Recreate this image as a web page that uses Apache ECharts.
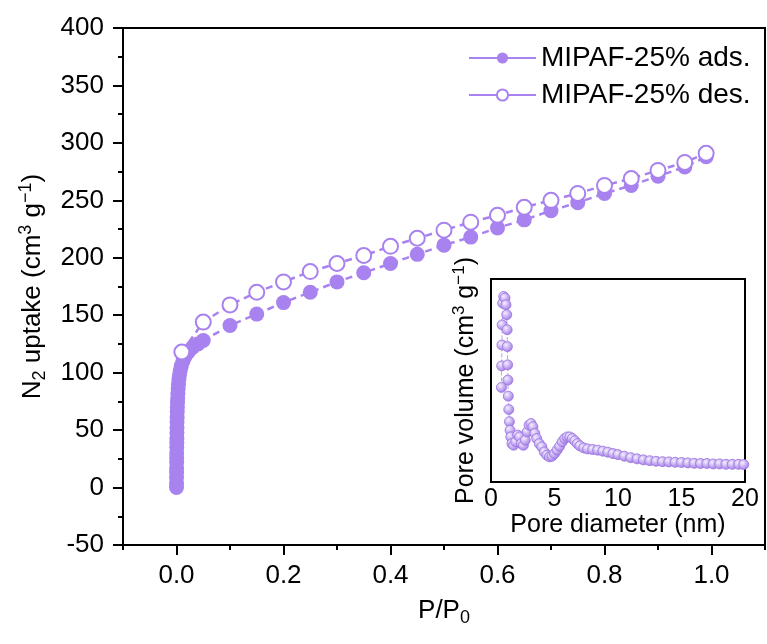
<!DOCTYPE html>
<html>
<head>
<meta charset="utf-8">
<script src="https://cdn.jsdelivr.net/npm/echarts@6/dist/echarts.min.js"></script>
<style>html,body{margin:0;padding:0;background:#fff}#c{width:767px;height:644px}</style>
</head>
<body>
<div id="c"></div>
<script>
// ---- Main isotherm data ----
var adsP = [0.0000,0.0001,0.0001,0.0002,0.0002,0.0003,0.0003,0.0004,0.0005,0.0006,0.0007,0.0008,0.0009,0.0010,0.0012,0.0014,0.0016,0.0019,0.0022,0.0026,0.0031,0.0037,0.0045,0.0055,0.0070,0.0090,0.012,0.016,0.022,0.030,0.040,0.05,0.10,0.15,0.20,0.25,0.30,0.35,0.40,0.45,0.50,0.55,0.60,0.65,0.70,0.75,0.80,0.85,0.90,0.95,0.99];
var adsV = [0,4,9,13,17,22,26,30,35,39,43,48,52,57,61,66,70,74,78,82,86,90,94,98,102,106,110,114,118,122,125,128,141,151,161,170,179,187,195,203,211,218,226,233,241,248,256,263,271,279,288];
var desP = [0.01,0.05,0.10,0.15,0.20,0.25,0.30,0.35,0.40,0.45,0.50,0.55,0.60,0.65,0.70,0.75,0.80,0.85,0.90,0.95,0.99];
var desV = [118,144,159,170,179,188,195,202,210,217,224,231,237,244,250,256,263,269,276,283,291];
// ---- Inset pore size distribution ----
var poreD = [0.82,0.84,0.86,0.88,0.92,1.00,1.10,1.18,1.24,1.27,1.29,1.31,1.33,1.36,1.40,1.45,1.50,1.56,1.65,1.78,1.95,2.10,2.25,2.40,2.55,2.70,2.85,3.00,3.15,3.30,3.45,3.60,3.80,4.00,4.20,4.40,4.60,4.80,5.00,5.20,5.40,5.60,5.80,6.00,6.20,6.40,6.60,6.80,7.00,7.30,7.60,8.00,8.40,8.80,9.20,9.60,10.0,10.5,11.0,11.5,12.0,12.5,13.0,13.5,14.0,14.5,15.0,15.5,16.0,16.5,17.0,17.5,18.0,18.5,19.0,19.5,19.9];
var poreV = [0.466,0.572,0.675,0.774,0.881,0.914,0.906,0.873,0.824,0.750,0.667,0.577,0.502,0.423,0.357,0.297,0.255,0.222,0.189,0.181,0.198,0.231,0.222,0.189,0.181,0.206,0.247,0.280,0.288,0.272,0.239,0.214,0.189,0.173,0.148,0.132,0.124,0.127,0.140,0.157,0.176,0.198,0.214,0.222,0.222,0.214,0.203,0.189,0.178,0.168,0.163,0.160,0.157,0.152,0.147,0.140,0.135,0.127,0.120,0.114,0.109,0.105,0.102,0.100,0.099,0.097,0.096,0.094,0.092,0.091,0.091,0.089,0.089,0.087,0.087,0.087,0.086];
// ---- Tick values ----
var xMajorTicks = [0.0,0.2,0.4,0.6,0.8,1.0];
var xMinorTicks = [-0.1,0.1,0.3,0.5,0.7,0.9,1.1];
var seriesNames = ['MIPAF-25% ads.','MIPAF-25% des.'];

var purple = '#a882ee';
var FONT = "'Liberation Sans', Arial, sans-serif";
function zip(a,b){return a.map(function(v,i){return [v,b[i]];});}

var chart = echarts.init(document.getElementById('c'), null, {renderer:'canvas'});
var txt = {color:'#000', fontFamily:FONT, fontSize:26};
chart.setOption({
  animation:false,
  backgroundColor:'#fff',
  textStyle:{fontFamily:FONT},
  legend:{
    data:seriesNames, orient:'vertical', left:463, top:39,
    itemWidth:67, itemHeight:14, itemGap:9,
    textStyle:{color:'#000', fontFamily:FONT, fontSize:28, lineHeight:28},
    lineStyle:{type:'solid', width:2}
  },
  grid:[
    {left:123, top:28, width:642, height:517, show:true, borderColor:'#000', borderWidth:2, backgroundColor:'transparent'},
    {left:491, top:279, width:254, height:203, show:true, borderColor:'#000', borderWidth:2, backgroundColor:'#fff', z:5}
  ],
  xAxis:[
    {gridIndex:0, type:'value', min:-0.1, max:1.1, interval:0.1,
     name:'{a|P/P}{sub|0}', nameLocation:'middle', nameGap:50,
     nameTextStyle:{rich:{a:{fontSize:26,color:'#000',fontFamily:FONT}, sub:{fontSize:18,color:'#000',fontFamily:FONT,padding:[14,0,0,0]}}},
     axisLine:{onZero:false, lineStyle:{color:'#000', width:2}},
     axisTick:{show:true, length:10, lineStyle:{width:2}, customValues:xMajorTicks},
     axisLabel:Object.assign({margin:18, customValues:xMajorTicks, formatter:function(v){return v.toFixed(1);}}, txt),
     splitLine:{show:false}},
    {gridIndex:0, type:'value', min:-0.1, max:1.1, interval:0.1, position:'bottom',
     axisLine:{show:false, onZero:false},
     axisTick:{show:true, length:5, lineStyle:{width:2,color:'#000'}, customValues:xMinorTicks},
     axisLabel:{show:false}, splitLine:{show:false}},
    {gridIndex:1, type:'value', min:0, max:20, interval:5,
     name:'Pore diameter (nm)', nameLocation:'middle', nameGap:31,
     nameTextStyle:{fontSize:25, color:'#000', fontFamily:FONT},
     axisLine:{onZero:false, lineStyle:{color:'#000', width:2}},
     axisTick:{show:true, inside:true, length:5, lineStyle:{width:1.5}},
     minorTick:{show:true, splitNumber:2, length:4, lineStyle:{color:'#000', width:1.5}},
     axisLabel:{margin:5, fontSize:25, color:'#000', fontFamily:FONT},
     splitLine:{show:false}}
  ],
  yAxis:[
    {gridIndex:0, type:'value', min:-50, max:400, interval:50,
     name:'{a|N}{sub|2}{a| uptake (cm}{sup|3}{a| g}{sup|−1}{a|)}', nameLocation:'middle', nameGap:74,
     nameTextStyle:{rich:{a:{fontSize:26,color:'#000',fontFamily:FONT}, sub:{fontSize:18,color:'#000',fontFamily:FONT,padding:[14,0,0,0]}, sup:{fontSize:18,color:'#000',fontFamily:FONT,padding:[0,0,14,0]}}},
     axisLine:{onZero:false, lineStyle:{color:'#000', width:2}},
     axisTick:{show:true, length:10, lineStyle:{width:2}},
     minorTick:{show:true, splitNumber:2, length:5, lineStyle:{color:'#000', width:2}},
     axisLabel:Object.assign({margin:19}, txt),
     splitLine:{show:false}},
    {gridIndex:1, type:'value', min:0, max:1,
     name:'{a|Pore volume (cm}{sup|3}{a| g}{sup|−1}{a|)}', nameLocation:'middle', nameGap:10,
     nameTextStyle:{rich:{a:{fontSize:25,color:'#000',fontFamily:FONT}, sup:{fontSize:17,color:'#000',fontFamily:FONT,padding:[0,0,13,0]}}},
     axisLine:{onZero:false, lineStyle:{color:'#000', width:2}},
     axisTick:{show:false}, axisLabel:{show:false}, splitLine:{show:false}}
  ],
  series:[
    {name:seriesNames[0], type:'line', xAxisIndex:0, yAxisIndex:0, data:zip(adsP,adsV),
     symbol:'circle', symbolSize:15, color:purple,
     itemStyle:{color:purple},
     lineStyle:{color:purple, width:2.5, type:[7,5]}, z:2},
    {name:seriesNames[1], type:'line', xAxisIndex:0, yAxisIndex:0, data:zip(desP,desV),
     symbol:'emptyCircle', symbolSize:15, color:purple,
     itemStyle:{color:purple, borderColor:purple, borderWidth:1.5},
     lineStyle:{color:purple, width:2.5, type:[7,5]}, z:3},
    {name:'PSD', type:'line', xAxisIndex:2, yAxisIndex:1, data:zip(poreD,poreV),
     symbol:'circle', symbolSize:10, z:10,
     itemStyle:{color:{type:'radial', x:0.38, y:0.35, r:0.65, colorStops:[{offset:0,color:'#f4eeff'},{offset:1,color:'#a37ce8'}]}, borderColor:'#9a74e0', borderWidth:0.8},
     lineStyle:{color:'#b9a0f0', width:1, type:'dashed'}}
  ]
});
</script>
</body>
</html>
